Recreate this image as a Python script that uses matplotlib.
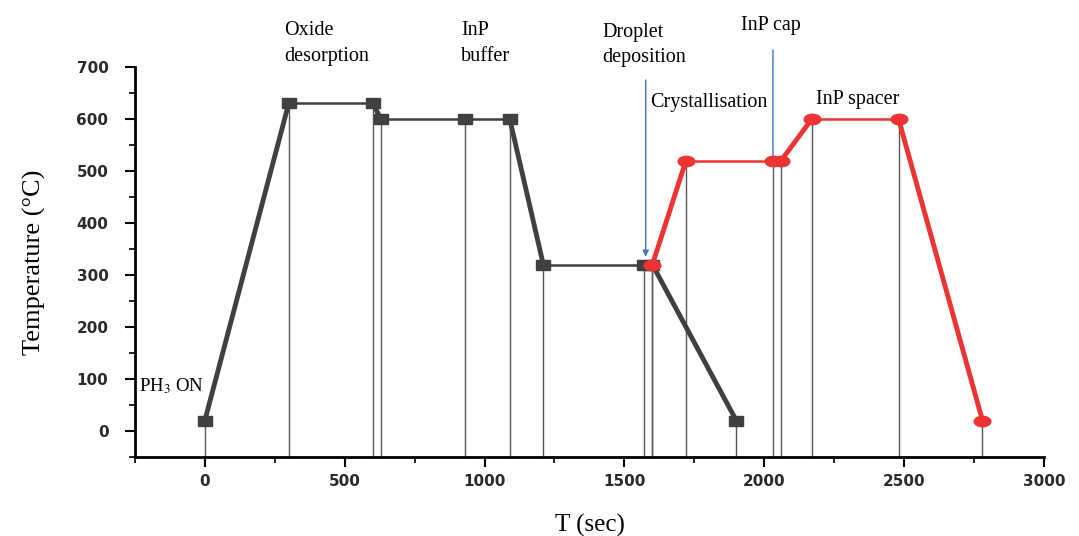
import matplotlib
matplotlib.use('Agg')
import matplotlib.pyplot as plt
from matplotlib.markers import MarkerStyle
from matplotlib.transforms import Affine2D
from matplotlib.ticker import MultipleLocator

plt.rcParams['mathtext.fontset'] = 'stix'

# growth profile
t_black = [0, 300, 600, 630, 930, 1090, 1210, 1570, 1600, 1900]
temp_black = [20, 630, 630, 600, 600, 600, 320, 320, 320, 20]
t_red = [1600, 1720, 2030, 2060, 2170, 2480, 2780]
temp_red = [320, 520, 520, 520, 600, 600, 20]

labels = ['Oxide\ndesorption', 'InP\nbuffer', 'Droplet\ndeposition', 'InP cap',
          'Crystallisation', 'InP spacer']
label_x = [283, 917, 1422, 1917, 1591, 2186]
label_y = [745, 745, 742, 780, 632, 638]

arrow_x = [1576, 2031]
arrow_top = [675, 733]
arrow_tip = [335, 512]

serif = 'Liberation Serif'
black = '#404040'
red = '#ee3333'

fig = plt.figure(figsize=(10.79, 5.36), dpi=100)
ax = fig.add_axes([0.125, 0.1474, 0.8426, 0.7276])

ymin = -50
ax.vlines(t_black, ymin, temp_black, color='#555555', lw=1.0, zorder=1)
ax.vlines(t_red, ymin, temp_red, color='#555555', lw=1.0, zorder=1)

# ramps drawn heavier than the plateaus, as in the original
def draw_series(ts, ys, color):
    for i in range(len(ts) - 1):
        lw = 1.8 if ys[i] == ys[i + 1] else 3.5
        ax.plot(ts[i:i + 2], ys[i:i + 2], color=color, lw=lw,
                solid_capstyle='round', zorder=2)

draw_series(t_black, temp_black, black)
draw_series(t_red, temp_red, red)

sq = MarkerStyle('s', transform=Affine2D().scale(1.6, 1.0))
el = MarkerStyle('o', transform=Affine2D().scale(1.6, 1.0))
ax.plot(t_black, temp_black, ls='none', marker=sq, ms=6.5, color=black, zorder=3)
ax.plot(t_red, temp_red, ls='none', marker=el, ms=7.5, color=red, zorder=4)

for x, y0, y1 in zip(arrow_x, arrow_top, arrow_tip):
    ax.annotate('', xy=(x, y1), xytext=(x, y0), annotation_clip=False,
                arrowprops=dict(arrowstyle='-|>', color='#4472c4', lw=1.0,
                                mutation_scale=9, shrinkA=0, shrinkB=0))

for txt, x, y in zip(labels, label_x, label_y):
    ax.text(x, y, txt, fontsize=14.5, family=serif, ha='left', va='center',
            linespacing=1.45, clip_on=False)
ax.text(-235, 87, 'PH$_3$ ON', fontsize=13.5, family=serif, ha='left', va='center')

ax.set_xlim(-250, 3000)
ax.set_ylim(ymin, 700)
ax.xaxis.set_major_locator(MultipleLocator(500))
ax.xaxis.set_minor_locator(MultipleLocator(250))
ax.yaxis.set_major_locator(MultipleLocator(100))
ax.yaxis.set_minor_locator(MultipleLocator(50))
ax.set_xticks(range(0, 3001, 500))
ax.set_yticks(range(0, 701, 100))

for s in ['top', 'right']:
    ax.spines[s].set_visible(False)
for s in ['left', 'bottom']:
    ax.spines[s].set_linewidth(2)
ax.tick_params(which='major', direction='out', length=7, width=1.5)
ax.tick_params(which='minor', direction='out', length=4, width=1.2)
for lab in ax.get_xticklabels() + ax.get_yticklabels():
    lab.set_fontweight('bold')
    lab.set_fontsize(11)
    lab.set_color('#2a2a2a')
ax.tick_params(axis='x', pad=5)
ax.tick_params(axis='y', pad=12)

ax.set_xlabel('T (sec)', fontsize=18, family=serif, labelpad=18)
ax.set_ylabel('Temperature (°C)', fontsize=19, family=serif, labelpad=22)

fig.savefig('out.png', dpi=100)
